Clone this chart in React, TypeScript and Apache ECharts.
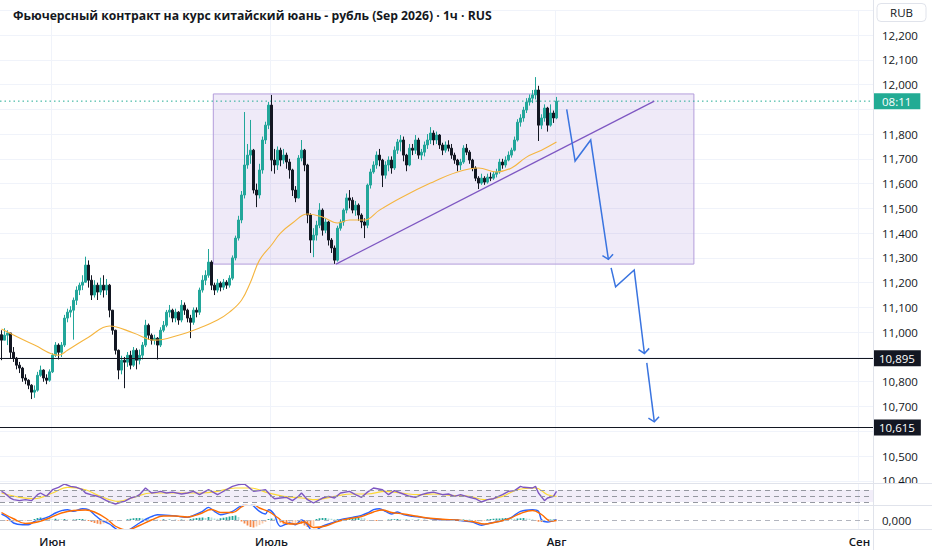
import React, { useEffect, useRef } from "react";
import * as echarts from "echarts";

// ---------- texts ----------
const TITLE = "Фьючерсный контракт на курс китайский юань - рубль (Sep 2026) · 1ч · RUS";
const CURRENCY = "RUB";
const COUNTDOWN = "08:11";

// ---------- time axis ----------
const TOTAL_SLOTS = 291; // candles + empty future slots
const MONTH_TICKS: [number, string][] = [
  [17, "Июн"],
  [90, "Июль"],
  [185, "Авг"],
  [286, "Сен"],
];

// ---------- price axis ----------
const PRICE_MIN = 10400;
const PRICE_MAX = 12300;
const PRICE_STEP = 100;
const HIDDEN_PRICE_LABELS = [12300, 11900, 10900, 10600];

// ---------- candles (1h) ----------
const FIRST_OPEN = 10990;
const CLOSES = [
  10968, 10988, 10997, 10919, 10895, 10867, 10855, 10815, 10806, 10786,
  10758, 10766, 10826, 10847, 10815, 10806, 10840, 10907, 10948, 10919,
  10948, 11057, 11081, 11089, 11129, 11170, 11190, 11202, 11271, 11210,
  11150, 11190, 11162, 11190, 11170, 11190, 11089, 11008, 10927, 10847,
  10887, 10879, 10907, 10867, 10927, 10887, 10907, 10948, 11028, 10988,
  10968, 10976, 10948, 11008, 11028, 11081, 11089, 11057, 11081, 11049,
  11109, 11089, 11057, 11040, 11089, 11081, 11170, 11210, 11230, 11283,
  11190, 11170, 11198, 11182, 11202, 11190, 11218, 11300, 11380, 11453,
  11554, 11675, 11715, 11735, 11574, 11554, 11655, 11776, 11836, 11917,
  11695, 11675, 11735, 11695, 11715, 11687, 11655, 11574, 11542, 11703,
  11735, 11675, 11473, 11372, 11392, 11432, 11493, 11412, 11445, 11372,
  11340, 11291, 11420, 11445, 11493, 11542, 11533, 11493, 11513, 11473,
  11445, 11432, 11594, 11647, 11675, 11715, 11695, 11634, 11675, 11695,
  11663, 11735, 11768, 11776, 11715, 11675, 11743, 11735, 11776, 11715,
  11727, 11756, 11776, 11804, 11776, 11796, 11756, 11735, 11756, 11743,
  11715, 11695, 11675, 11687, 11743, 11727, 11695, 11663, 11622, 11602,
  11622, 11606, 11626, 11622, 11638, 11647, 11687, 11675, 11695, 11715,
  11735, 11776, 11848, 11865, 11897, 11929, 11945, 11958, 11978, 11836,
  11865, 11905, 11836, 11885, 11865, 11933,
];
const HIGHS = [
  11008, 11016, 11008, 10988, 10940, 10900, 10880, 10860, 10830, 10810,
  10790, 10785, 10840, 10865, 10850, 10830, 10850, 10915, 10960, 10955,
  10960, 11070, 11095, 11105, 11140, 11185, 11200, 11230, 11305, 11290,
  11230, 11210, 11200, 11220, 11230, 11215, 11195, 11090, 11010, 10930,
  10905, 10900, 10920, 10925, 10940, 10935, 10930, 10960, 11050, 11035,
  10995, 10990, 10980, 11020, 11045, 11090, 11110, 11095, 11095, 11085,
  11130, 11120, 11095, 11070, 11100, 11100, 11180, 11230, 11250, 11336,
  11290, 11200, 11215, 11205, 11215, 11210, 11230, 11310, 11390, 11470,
  11570, 11889, 11760, 11857, 11740, 11600, 11680, 11790, 11850, 11930,
  11958, 11740, 11750, 11745, 11740, 11725, 11700, 11660, 11590, 11715,
  11776, 11740, 11680, 11480, 11420, 11450, 11521, 11500, 11460, 11450,
  11380, 11350, 11430, 11455, 11500, 11560, 11574, 11545, 11530, 11520,
  11480, 11460, 11600, 11660, 11690, 11730, 11740, 11700, 11690, 11710,
  11710, 11750, 11780, 11796, 11790, 11720, 11760, 11760, 11796, 11785,
  11740, 11770, 11800, 11828, 11815, 11810, 11800, 11765, 11770, 11775,
  11760, 11725, 11700, 11700, 11755, 11760, 11735, 11700, 11670, 11630,
  11640, 11630, 11640, 11645, 11650, 11660, 11700, 11700, 11710, 11730,
  11745, 11790, 11860, 11880, 11910, 11945, 11960, 11978, 12030, 11995,
  11880, 11920, 11910, 11920, 11895, 11950,
];
const LOWS = [
  10887, 10968, 10948, 10895, 10880, 10850, 10835, 10800, 10790, 10770,
  10730, 10735, 10760, 10820, 10800, 10790, 10800, 10835, 10900, 10890,
  10900, 10940, 11040, 11060, 10970, 11110, 11150, 11170, 11200, 11180,
  11130, 11140, 11130, 11150, 11140, 11150, 11060, 10990, 10910, 10810,
  10830, 10774, 10860, 10850, 10860, 10850, 10870, 10890, 10940, 10970,
  10950, 10950, 10890, 10940, 11000, 11020, 11060, 11040, 11040, 11030,
  11040, 11070, 11040, 10976, 11030, 11060, 11070, 11160, 11190, 11220,
  11170, 11150, 11160, 11165, 11170, 11175, 11180, 11210, 11290, 11370,
  11440, 11540, 11660, 11680, 11560, 11505, 11540, 11640, 11760, 11820,
  11650, 11640, 11655, 11670, 11680, 11660, 11620, 11550, 11525, 11540,
  11690, 11650, 11440, 11320, 11303, 11370, 11420, 11390, 11400, 11350,
  11320, 11276, 11285, 11410, 11430, 11480, 11500, 11480, 11470, 11450,
  11420, 11380, 11420, 11580, 11640, 11660, 11670, 11586, 11620, 11650,
  11640, 11655, 11720, 11730, 11690, 11650, 11670, 11715, 11720, 11700,
  11695, 11710, 11740, 11760, 11755, 11760, 11740, 11715, 11725, 11730,
  11700, 11680, 11650, 11655, 11680, 11715, 11680, 11650, 11610, 11578,
  11595, 11595, 11600, 11610, 11615, 11625, 11640, 11660, 11665, 11690,
  11705, 11730, 11770, 11830, 11850, 11885, 11915, 11925, 11940, 11772,
  11820, 11850, 11810, 11830, 11845, 11860,
];

// moving average on price, read at sample candles [index, value]
const MA_POINTS: [number, number][] = [
  [0, 11013], [11, 10948], [19, 10907], [22, 10927], [29, 10980], [36, 11025],
  [44, 10997], [51, 10968], [59, 10988], [66, 11017], [72, 11049], [76, 11081],
  [80, 11129], [83, 11202], [86, 11291], [90, 11352], [93, 11400], [97, 11441],
  [102, 11477], [107, 11465], [112, 11441], [116, 11453], [121, 11453], [126, 11493],
  [133, 11542], [143, 11602], [152, 11647], [159, 11663], [165, 11647], [170, 11663],
  [175, 11707], [180, 11735], [185, 11768],
];

// horizontal levels, last price
const LEVELS: [number, string][] = [
  [10895, "10,895"],
  [10615, "10,615"],
];
const LAST_PRICE = 11933;

// drawings (x in candle-slot units, y in price)
const RANGE_BOX = { x0: 70.6, x1: 230.8, top: 11962, bottom: 11275 };
const TREND_LINE: [number, number][] = [[111.5, 11275], [217.6, 11933]];
const ARROW_PATHS: [number, number][][] = [
  [[188.4, 11900], [191.2, 11691], [196.4, 11776], [202.3, 11294]],
  [[203.2, 11260], [204.7, 11183], [210.9, 11251], [214.3, 10914]],
  [[215.1, 10876], [217.6, 10638]],
];

// RSI pane
const RSI_LEVELS = [70, 50, 30];
const RSI_POINTS: [number, number][] = [
  [0, 65.6], [1, 60], [3, 43], [4, 37.8], [6, 34.4], [8, 37.8], [10, 34.4], [12, 54.4],
  [13, 60], [15, 49], [17, 71], [19, 79], [21, 90], [23, 82], [25, 79], [27, 71],
  [28, 60], [30, 54], [32, 49], [33, 45.6], [35, 34.4], [36, 30], [38, 23.3], [40, 30],
  [41, 32.2], [43, 43.3], [45, 49], [46, 54.4], [48, 76.7], [50, 60], [52, 63], [53, 65.6],
  [55, 60], [57, 63], [60, 56.7], [62, 60], [64, 65.6], [66, 54.4], [68, 65.6], [69, 71],
  [72, 54.4], [73, 60], [75, 71], [77, 82], [79, 87.8], [81, 90], [82, 82], [84, 65.6],
  [86, 67.8], [88, 71], [90, 49], [91, 41], [93, 43.3], [95, 45.6], [97, 34.4], [99, 49],
  [100, 60], [102, 37.8], [104, 26.7], [107, 43.3], [109, 49], [111, 43.3], [113, 60],
  [116, 65.6], [118, 54.4], [120, 45.6], [122, 63], [124, 76.7], [127, 71], [129, 54.4],
  [131, 67.8], [133, 60], [136, 49], [138, 45.6], [140, 54.4], [142, 60], [144, 63],
  [147, 54.4], [149, 56.7], [151, 49], [153, 54.4], [156, 45.6], [158, 41], [160, 30],
  [162, 37.8], [164, 41], [167, 54.4], [169, 65.6], [171, 67.8], [173, 82], [174, 79],
  [177, 76.7], [178, 82], [179, 60], [181, 34.4], [182, 43.3], [184, 49], [185, 65.6],
];
const RSI_MA_POINTS: [number, number][] = [
  [0, 60], [6, 45.6], [11, 41], [17, 60], [22, 79], [28, 71], [33, 49], [39, 32.2],
  [44, 45.6], [50, 60], [56, 60], [61, 60], [67, 60], [72, 65.6], [78, 76.7], [83, 76.7],
  [89, 60], [94, 49], [100, 43.3], [105, 37.8], [111, 49], [117, 56.7], [122, 56.7],
  [128, 65.6], [133, 60], [139, 54.4], [144, 56.7], [150, 52], [156, 49], [161, 37.8],
  [167, 49], [172, 71], [178, 76.7], [182, 54.4], [185, 49],
];

// MACD pane
const MACD_POINTS: [number, number][] = [
  [0, 24], [2, 10.7], [4, -12], [7, -18.7], [9, -18.7], [11, -5.3], [13, 1.3], [16, 14.7],
  [18, 28], [20, 37.3], [22, 41.3], [24, 34.7], [27, 45.3], [29, 41.3], [31, 21.3], [33, 1.3],
  [36, -16], [38, -34], [40, -46], [42, -44], [44, -28], [46, -12], [49, 8], [52, 21.3],
  [56, 18.7], [59, 14.7], [62, 10.7], [64, 18.7], [67, 34.7], [69, 50.7], [71, 34.7],
  [73, 21.3], [77, 34.7], [79, 50.7], [80, 56], [81, 66], [82, 72], [83, 66], [84, 56],
  [86, 34.7], [88, 24], [89, 41.3], [91, 21.3], [92, -12], [93, -25.3], [96, -12], [98, -18.7],
  [100, 0], [102, -18.7], [103, -38], [104, -44], [105, -40], [107, -25], [110, -12],
  [113, 1.3], [117, 10.7], [120, 18.7], [122, 28], [124, 41.3], [126, 45.3], [128, 34.7],
  [130, 24], [132, 32], [134, 21.3], [137, 14.7], [140, 10.7], [143, 5.3], [147, 1.3],
  [150, 1.3], [153, -2.7], [157, -8], [160, -21], [163, -12], [167, -2.7], [170, 10.7],
  [173, 34.7], [177, 41.3], [179, 34.7], [180, 1.3], [182, -8], [184, -2.7], [185, 1.3],
];
const SIGNAL_POINTS: [number, number][] = [
  [0, 30], [4, 5], [8, -14], [12, -8], [16, 8], [20, 28], [24, 38], [28, 40], [31, 32],
  [35, 5], [38, -25], [42, -40], [46, -22], [50, 0], [54, 16], [58, 16], [62, 12], [66, 24],
  [70, 42], [73, 30], [77, 30], [80, 52], [83, 68], [86, 48], [89, 34], [92, 10], [95, -14],
  [98, -16], [101, -8], [104, -30], [108, -24], [112, -6], [116, 6], [120, 14], [124, 32],
  [127, 40], [130, 30], [134, 24], [138, 16], [142, 8], [147, 3], [152, 0], [157, -6],
  [161, -16], [165, -8], [169, 4], [173, 26], [177, 38], [180, 22], [183, -4], [185, -2],
];
const HISTOGRAM = [
  -2, -3, -4, -5, -5, -6, -5, -4, -3, -2, -1,
  4, 8, 10, 9, 6,
  4, 3, 5, 4, 3, 4, 2, 1, 2,
  3, 4, 4, 2,
  -4, -8, -12, -15, -17, -14, -10, -7, -5,
  -3, -2, -1, 0,
  3, 5, 7, 8, 8, 7, 6, 5, 4, 3,
  2, -2, 3, -1, 2, -3, 1, -2, 2, 1, -1,
  4, 6, 8, 9, 10, 8, 12, 10, 6, 5, 7, 9, 11, 14, 16, 18, 12,
  -6, -14, -22, -28, -30, -26, -20, -14, -8,
  4, 6, 5, 2,
  -10, -15, -20, -18, -14, -12, -10,
  -15, -22, -28, -30, -24,
  4, 7, 8, 8, 6, 5,
  3, 3, 2, 3, 4,
  6, 8, 10, 10, 9, 7,
  -2, -3, -4, -4, -3, -2, -1,
  2, 3, 3, 4, 3, 2, 2, 1,
  1, -1, 2, -1, 1, -2, 1, -1, 2, -1, 1, -1,
  1, 2, 2, 2, 1, 2, 1, 1, 0,
  -3, -5, -5, -4,
  3, 4, 5, 6, 6, 7, 8, 7, 6, 5, 6, 7, 8, 6, 5, 3,
  -4, -7, -8, -6,
  1, 2, 2, 1,
];

// ---------- styling ----------
const FONT = "'Open Sans', 'Noto Sans', sans-serif";
const TEXT = "#131722";
const GRID_LINE = "#f0f3fa";
const PANE_BORDER = "#e0e3eb";
const UP = "#22a69a";
const DOWN = "#131722";
const TEAL_BADGE = "#22ab94";
const PLOT_RIGHT = 873;

function sparse(points: [number, number][], n: number) {
  const arr: (number | null)[] = new Array(n).fill(null);
  points.forEach(([i, v]) => (arr[i] = v));
  return arr;
}

export default function App() {
  const ref = useRef<HTMLDivElement>(null);

  useEffect(() => {
    if (!ref.current) return;
    const chart = echarts.init(ref.current, undefined, { renderer: "svg" });
    const n = CLOSES.length;
    const categories = Array.from({ length: TOTAL_SLOTS }, (_, i) => `s${i}`);
    const monthMap = new Map<number, string>(MONTH_TICKS);

    const candles = CLOSES.map((c, i) => {
      const o = i === 0 ? FIRST_OPEN : CLOSES[i - 1];
      const h = Math.max(HIGHS[i], o, c);
      const l = Math.min(LOWS[i], o, c);
      return [o, c, l, h];
    });

    const gridW = PLOT_RIGHT;
    const grids = [
      { left: 0, top: 10.24, width: gridW, height: 470.56 },
      { left: 0, top: 483.5, width: gridW, height: 21.5 },
      { left: 0, top: 505.5, width: gridW, height: 23.5 },
    ];

    const catAxis = (gridIndex: number, showLabels: boolean) => ({
      type: "category",
      gridIndex,
      data: categories,
      boundaryGap: true,
      axisLine: { show: false },
      axisTick: { show: false },
      axisLabel: {
        show: showLabels,
        interval: (idx: number) => monthMap.has(idx),
        formatter: (_v: string, idx: number) => monthMap.get(idx) ?? "",
        color: TEXT,
        fontSize: 11.5,
        fontWeight: 600,
        fontFamily: FONT,
        margin: 6,
      },
      splitLine: {
        show: true,
        interval: (idx: number) => monthMap.has(idx),
        lineStyle: { color: GRID_LINE, width: 1 },
      },
    });

    const badgeLabel = {
      show: true,
      position: "end",
      distance: 0,
      padding: [2, 6],
      fontSize: 11.5,
      fontFamily: FONT,
      lineHeight: 12,
    };

    const levelLines = LEVELS.map(([v, label]) => ({
      yAxis: v,
      lineStyle: { color: TEXT, width: 1, type: "solid" },
      label: {
        formatter: label,
        backgroundColor: TEXT,
        color: "#ffffff",
      },
    }));

    const histColors = HISTOGRAM.map((v, i) => {
      const prev = i > 0 ? HISTOGRAM[i - 1] : 0;
      if (v >= 0) return v >= prev ? UP : "#b2dfdb";
      return v <= prev ? "#f5894b" : "#fbc9a8";
    });

    const option: any = {
      animation: false,
      backgroundColor: "#ffffff",
      textStyle: { fontFamily: FONT },
      title: {
        text: TITLE,
        left: 8,
        top: 4,
        textStyle: { fontSize: 12.2, fontWeight: 700, color: TEXT, fontFamily: FONT },
      },
      grid: grids,
      xAxis: [
        catAxis(0, false),
        catAxis(1, false),
        catAxis(2, true),
        { type: "value", gridIndex: 0, min: -0.5, max: TOTAL_SLOTS - 0.5, show: false },
      ],
      yAxis: [
        {
          type: "value",
          gridIndex: 0,
          position: "right",
          min: PRICE_MIN,
          max: PRICE_MAX,
          interval: PRICE_STEP,
          axisLine: { show: false },
          axisTick: { show: false },
          axisLabel: {
            margin: 9,
            color: TEXT,
            fontSize: 11.5,
            fontFamily: FONT,
            formatter: (v: number) =>
              HIDDEN_PRICE_LABELS.includes(v) ? "" : v.toLocaleString("en-US"),
          },
          splitLine: { lineStyle: { color: GRID_LINE } },
        },
        {
          type: "value",
          gridIndex: 1,
          position: "right",
          min: 20,
          max: 91.7,
          axisLine: { show: false },
          axisTick: { show: false },
          axisLabel: { show: false },
          splitLine: { show: false },
        },
        {
          type: "value",
          gridIndex: 2,
          position: "right",
          min: -36,
          max: 58,
          interval: 36,
          axisLine: { show: false },
          axisTick: { show: false },
          axisLabel: {
            margin: 9,
            color: TEXT,
            fontSize: 11.5,
            fontFamily: FONT,
            formatter: (v: number) => (v === 0 ? "0,000" : ""),
          },
          splitLine: { show: false },
        },
      ],
      series: [
        {
          name: "box",
          type: "line",
          xAxisIndex: 3,
          yAxisIndex: 0,
          z: 1,
          data: [[RANGE_BOX.x0, RANGE_BOX.top]],
          showSymbol: false,
          symbol: "none",
          lineStyle: { width: 0 },
          silent: true,
          markArea: {
            silent: true,
            itemStyle: {
              color: "rgba(149,117,205,0.15)",
              borderColor: "#b39ddb",
              borderWidth: 1,
            },
            label: { show: false },
            data: [
              [
                { xAxis: RANGE_BOX.x0, yAxis: RANGE_BOX.top },
                { xAxis: RANGE_BOX.x1, yAxis: RANGE_BOX.bottom },
              ],
            ],
          },
        },
        {
          name: "last price",
          type: "line",
          xAxisIndex: 3,
          yAxisIndex: 0,
          z: 1,
          data: [
            [-0.5, LAST_PRICE],
            [TOTAL_SLOTS - 0.5, LAST_PRICE],
          ],
          symbol: "none",
          lineStyle: { color: TEAL_BADGE, width: 1, type: [1.5, 3] },
          silent: true,
          endLabel: {
            show: true,
            formatter: COUNTDOWN,
            distance: 0,
            backgroundColor: TEAL_BADGE,
            color: "#ffffff",
            padding: [2, 9],
            fontSize: 11.5,
            fontFamily: FONT,
            lineHeight: 12,
          },
        },
        {
          name: "price",
          type: "candlestick",
          xAxisIndex: 0,
          yAxisIndex: 0,
          z: 2,
          data: candles,
          barWidth: 1.6,
          itemStyle: {
            color: UP,
            color0: DOWN,
            borderColor: UP,
            borderColor0: DOWN,
            borderWidth: 1,
          },
          markLine: {
            silent: true,
            symbol: ["none", "none"],
            label: badgeLabel,
            data: levelLines,
          },
        },
        {
          name: "MA",
          type: "line",
          xAxisIndex: 0,
          yAxisIndex: 0,
          z: 3,
          data: sparse(MA_POINTS, n),
          connectNulls: true,
          smooth: 0.4,
          symbol: "none",
          lineStyle: { color: "#f5b53f", width: 1.1 },
          silent: true,
        },
        {
          name: "trend",
          type: "line",
          xAxisIndex: 3,
          yAxisIndex: 0,
          z: 4,
          data: TREND_LINE,
          symbol: "none",
          lineStyle: { color: "#7e57c2", width: 1.2 },
          silent: true,
        },
        {
          name: "arrows",
          type: "custom",
          xAxisIndex: 3,
          yAxisIndex: 0,
          z: 5,
          clip: false,
          silent: true,
          data: ARROW_PATHS.map((p) => p[0]),
          encode: { x: 0, y: 1 },
          renderItem: (params: any, api: any) => {
            const path = ARROW_PATHS[params.dataIndex];
            const pts = path.map((p) => api.coord(p));
            const tip = pts[pts.length - 1];
            const prev = pts[pts.length - 2];
            const ang = Math.atan2(prev[1] - tip[1], prev[0] - tip[0]);
            const L = 7;
            const spread = (50 * Math.PI) / 180;
            const w1 = [tip[0] + L * Math.cos(ang + spread), tip[1] + L * Math.sin(ang + spread)];
            const w2 = [tip[0] + L * Math.cos(ang - spread), tip[1] + L * Math.sin(ang - spread)];
            const style = { stroke: "#3a74e0", lineWidth: 1.5, fill: "none" };
            return {
              type: "group",
              children: [
                { type: "polyline", shape: { points: pts }, style },
                { type: "polyline", shape: { points: [w1, tip, w2] }, style },
              ],
            };
          },
        },
        {
          name: "RSI",
          type: "line",
          xAxisIndex: 1,
          yAxisIndex: 1,
          z: 3,
          data: sparse(RSI_POINTS, n),
          connectNulls: true,
          symbol: "none",
          lineStyle: { color: "#7e57c2", width: 1.4 },
          silent: true,
          markArea: {
            silent: true,
            itemStyle: { color: "rgba(126,87,194,0.1)" },
            data: [[{ yAxis: RSI_LEVELS[2] }, { yAxis: RSI_LEVELS[0] }]],
          },
          markLine: {
            silent: true,
            symbol: ["none", "none"],
            label: { show: false },
            lineStyle: { color: "#9598a1", type: [5, 4], width: 1 },
            data: RSI_LEVELS.map((v) => ({ yAxis: v })),
          },
        },
        {
          name: "RSI MA",
          type: "line",
          xAxisIndex: 1,
          yAxisIndex: 1,
          z: 2,
          data: sparse(RSI_MA_POINTS, n),
          connectNulls: true,
          smooth: 0.4,
          symbol: "none",
          lineStyle: { color: "#fdd835", width: 1.2 },
          silent: true,
        },
        {
          name: "Histogram",
          type: "bar",
          xAxisIndex: 2,
          yAxisIndex: 2,
          barWidth: 1.8,
          data: HISTOGRAM.map((v, i) => ({ value: v, itemStyle: { color: histColors[i] } })),
          silent: true,
          markLine: {
            silent: true,
            symbol: ["none", "none"],
            label: { show: false },
            lineStyle: { color: "#b2b5be", type: [5, 4], width: 1 },
            data: [{ yAxis: 0 }],
          },
        },
        {
          name: "MACD",
          type: "line",
          xAxisIndex: 2,
          yAxisIndex: 2,
          data: sparse(MACD_POINTS, n),
          connectNulls: true,
          smooth: 0.3,
          symbol: "none",
          lineStyle: { color: "#2962ff", width: 1.4 },
          silent: true,
        },
        {
          name: "Signal",
          type: "line",
          xAxisIndex: 2,
          yAxisIndex: 2,
          data: sparse(SIGNAL_POINTS, n),
          connectNulls: true,
          smooth: 0.4,
          symbol: "none",
          lineStyle: { color: "#ff6d00", width: 1.4 },
          silent: true,
        },
      ],
      graphic: [
        // cover the RSI part of the price scale (the 10,400 label is cut there)
        {
          type: "rect",
          z: 100,
          shape: { x: PLOT_RIGHT + 1, y: 484, width: 932 - PLOT_RIGHT, height: 21 },
          style: { fill: "#ffffff" },
          silent: true,
        },
        {
          type: "line",
          z: 101,
          shape: { x1: 0, y1: 483.5, x2: 932, y2: 483.5 },
          style: { stroke: PANE_BORDER, lineWidth: 1 },
          silent: true,
        },
        {
          type: "line",
          z: 101,
          shape: { x1: 0, y1: 505.5, x2: 932, y2: 505.5 },
          style: { stroke: PANE_BORDER, lineWidth: 1 },
          silent: true,
        },
        {
          type: "line",
          z: 101,
          shape: { x1: 0, y1: 529.5, x2: 932, y2: 529.5 },
          style: { stroke: PANE_BORDER, lineWidth: 1 },
          silent: true,
        },
        {
          type: "line",
          z: 101,
          shape: { x1: PLOT_RIGHT + 0.5, y1: 0, x2: PLOT_RIGHT + 0.5, y2: 550 },
          style: { stroke: PANE_BORDER, lineWidth: 1 },
          silent: true,
        },
        {
          type: "group",
          z: 102,
          children: [
            {
              type: "rect",
              shape: { x: 877, y: 3.5, width: 49, height: 18, r: 4 },
              style: { fill: "#ffffff", stroke: PANE_BORDER, lineWidth: 1 },
            },
            {
              type: "text",
              x: 901.5,
              y: 12.5,
              style: {
                text: CURRENCY,
                fill: TEXT,
                font: `11.5px ${FONT}`,
                align: "center",
                verticalAlign: "middle",
              },
            },
          ],
        },
      ],
    };
    chart.setOption(option);
    return () => chart.dispose();
  }, []);

  return (
    <div
      ref={ref}
      style={{ position: "absolute", left: 0, top: 0, width: 932, height: 550, background: "#fff" }}
    />
  );
}
